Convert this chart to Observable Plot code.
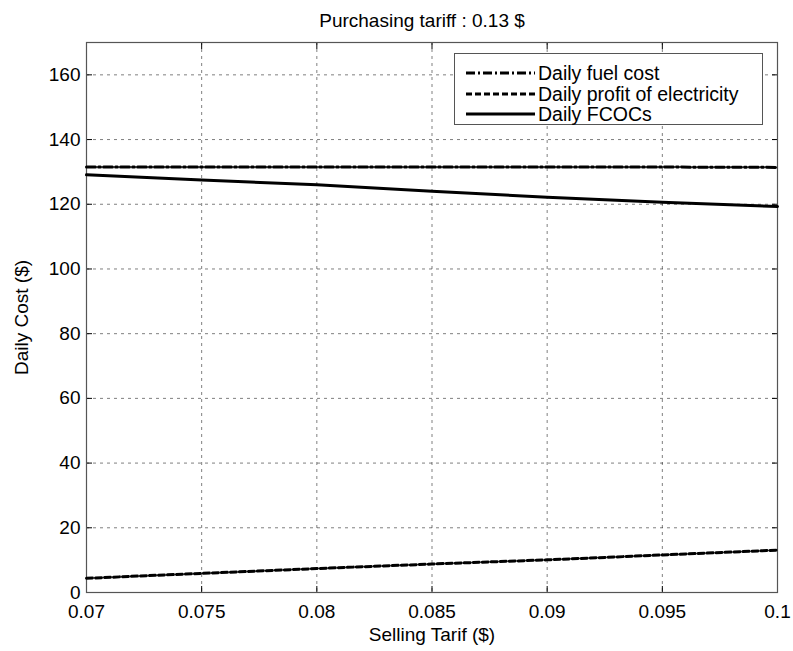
<!DOCTYPE html>
<html><head><meta charset="utf-8">
<script src="https://cdn.jsdelivr.net/npm/d3@7"></script>
<script src="https://cdn.jsdelivr.net/npm/@observablehq/plot@0.6"></script>
<style>
body{margin:0;background:#fff;font-family:"Liberation Sans",Arial,sans-serif;}
#wrap{position:relative;width:793px;height:651px;}
#legend{position:absolute;left:454px;top:53px;width:307px;height:70px;border:1px solid #555;background:#fff;font-size:19.5px;}
#legend .row{position:absolute;left:10px;height:18px;display:flex;align-items:center;}
#legend .row span{margin-left:3px;white-space:nowrap;line-height:18px;}
</style></head>
<body><div id="wrap"></div>
<script>
const tariff = [0.07, 0.075, 0.08, 0.085, 0.09, 0.095, 0.1];
const fuelCost = [131.5, 131.5, 131.5, 131.5, 131.5, 131.5, 131.4];
const profit = [4.4, 5.9, 7.4, 8.8, 10.1, 11.6, 13.1];
const fcocs = [129.1, 127.5, 126.0, 124.0, 122.2, 120.6, 119.3];
const xTicks = [0.07, 0.075, 0.08, 0.085, 0.09, 0.095, 0.1];
const yTicks = [0, 20, 40, 60, 80, 100, 120, 140, 160];
const seriesNames = ["Daily fuel cost", "Daily profit of electricity", "Daily FCOCs"];
const dashes = ["9,3,2,3", "6,3", null];

const rows = tariff.map((t, i) => ({t, fuel: fuelCost[i], profit: profit[i], fcoc: fcocs[i]}));

const chart = Plot.plot({
  width: 793, height: 651,
  marginLeft: 86, marginRight: 16, marginTop: 42, marginBottom: 59,
  style: {fontFamily: "'Liberation Sans', Arial, sans-serif", fontSize: "19px", color: "#000", background: "#fff"},
  x: {domain: [0.07, 0.1], ticks: xTicks},
  y: {domain: [0, 170], ticks: yTicks},
  marks: [
    Plot.gridX(xTicks, {stroke: "#000", strokeOpacity: 0.5, strokeDasharray: "3,4"}),
    Plot.gridY(yTicks, {stroke: "#000", strokeOpacity: 0.5, strokeDasharray: "3,4"}),
    Plot.axisX(xTicks, {anchor: "bottom", tickSize: -6, tickPadding: 18, fontSize: 19,
      tickFormat: d => String(d), label: "Selling Tarif ($)", labelAnchor: "center", labelOffset: 48, labelArrow: "none"}),
    Plot.axisX(xTicks, {anchor: "top", tickSize: -6, tickFormat: () => "", label: null}),
    Plot.axisY(yTicks, {anchor: "left", tickSize: -6, tickPadding: 12, fontSize: 19,
      label: "Daily Cost ($)", labelAnchor: "center", labelOffset: 72, labelArrow: "none"}),
    Plot.axisY(yTicks, {anchor: "right", tickSize: -6, tickFormat: () => "", label: null}),
    Plot.frame({stroke: "#555", strokeWidth: 1.2}),
    Plot.line(rows, {x: "t", y: "fuel", stroke: "#000", strokeWidth: 3, strokeDasharray: dashes[0]}),
    Plot.line(rows, {x: "t", y: "profit", stroke: "#000", strokeWidth: 3, strokeDasharray: dashes[1]}),
    Plot.line(rows, {x: "t", y: "fcoc", stroke: "#000", strokeWidth: 3}),
    Plot.text(["Purchasing tariff : 0.13 $"], {frameAnchor: "top", lineAnchor: "middle", dy: -22, dx: -10, fontSize: 19})
  ]
});
const wrap = document.getElementById("wrap");
wrap.appendChild(chart);

const legend = document.createElement("div");
legend.id = "legend";
const tops = [19, 40, 60];
seriesNames.forEach((name, i) => {
  const row = document.createElement("div");
  row.className = "row";
  row.style.top = (tops[i] - 9) + "px";
  row.innerHTML = `<svg width="70" height="18"><line x1="1" x2="70" y1="9" y2="9" stroke="#000" stroke-width="3" ${dashes[i] ? `stroke-dasharray="${dashes[i]}"` : ""}/></svg><span>${name}</span>`;
  legend.appendChild(row);
});
wrap.appendChild(legend);
</script></body></html>
